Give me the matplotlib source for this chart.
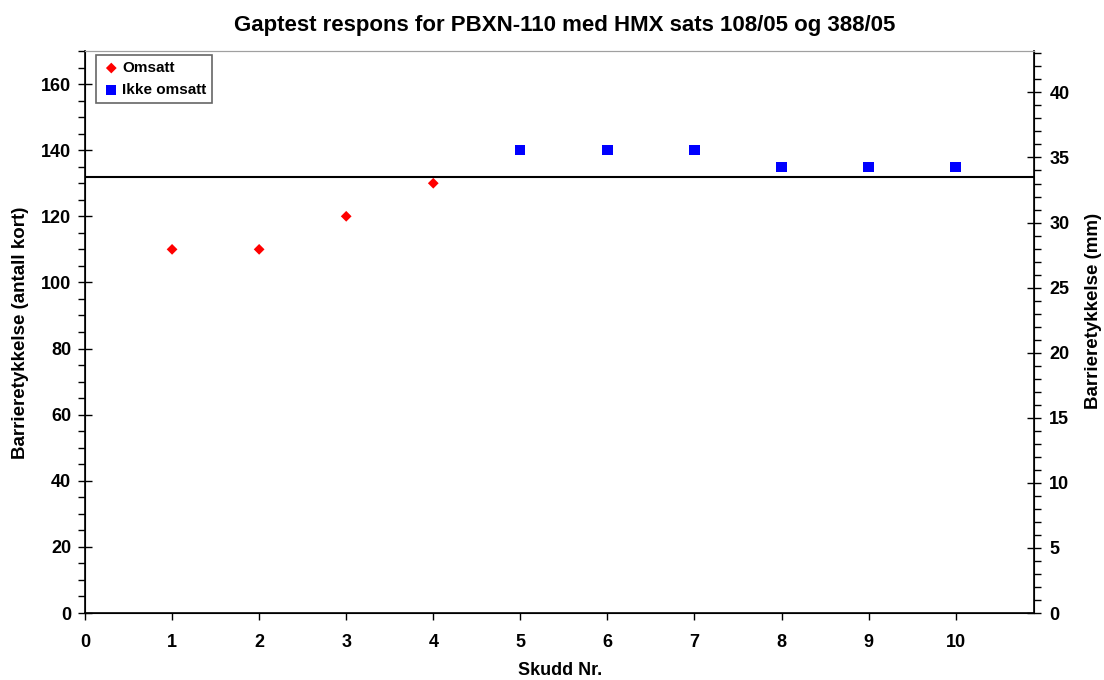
import matplotlib
matplotlib.use("Agg")
import matplotlib.pyplot as plt
from matplotlib.ticker import MultipleLocator

plt.rcParams['font.family'] = ['Liberation Sans', 'DejaVu Sans']
plt.rcParams['font.weight'] = 'bold'

title = "Gaptest respons for PBXN-110 med HMX sats 108/05 og 388/05"
x_label = "Skudd Nr."
y_label_left = "Barrieretykkelse (antall kort)"
y_label_right = "Barrieretykkelse (mm)"
x_omsatt = [1, 2, 3, 4]
y_omsatt = [110, 110, 120, 130]
x_ikke = [5, 6, 7, 8, 9, 10]
y_ikke = [140, 140, 140, 135, 135, 135]
threshold = 132
card_mm = 0.254

W, H = 1104, 680
fig = plt.figure(figsize=(W / 100, H / 100), dpi=100)
ax = fig.add_axes([0.077, 0.0985, 0.8596, 0.8265])

ax.scatter(x_omsatt, y_omsatt, marker='D', s=30, color='#ff0000', edgecolors='none', label='Omsatt', zorder=3)
ax.scatter(x_ikke, y_ikke, marker='s', s=55, color='#0000ff', edgecolors='none', label='Ikke omsatt', zorder=3)
ax.axhline(threshold, color='black', lw=1.5, zorder=2)

ax.set_xlim(0, 10.9)
ax.set_ylim(0, 170)
ax.xaxis.set_major_locator(MultipleLocator(1))
ax.yaxis.set_major_locator(MultipleLocator(20))
ax.yaxis.set_minor_locator(MultipleLocator(5))
ax.tick_params(axis='x', direction='out', length=5, width=1, labelsize=13, pad=10)
ax.tick_params(axis='y', which='major', direction='inout', length=10, width=1, labelsize=13, pad=5)
ax.tick_params(axis='y', which='minor', direction='out', length=5, width=1)
for lbl in ax.get_xticklabels() + ax.get_yticklabels():
    lbl.set_fontweight('bold')

ax.spines['top'].set_color('#a0a0a0')
ax.spines['left'].set_linewidth(1.2)
ax.spines['bottom'].set_linewidth(1.2)

ax2 = ax.twinx()
ax2.set_ylim(0, 170 * card_mm)
ax2.yaxis.set_major_locator(MultipleLocator(5))
ax2.yaxis.set_minor_locator(MultipleLocator(1))
ax2.tick_params(axis='y', which='major', direction='inout', length=10, width=1, labelsize=13, pad=6)
ax2.tick_params(axis='y', which='minor', direction='out', length=5, width=1)
for lbl in ax2.get_yticklabels():
    lbl.set_fontweight('bold')
ax2.spines['top'].set_color('#a0a0a0')
ax2.spines['right'].set_linewidth(1.2)

fig.text(565 / W, 1 - 26 / H, title, fontsize=16, fontweight='bold', ha='center', va='center')
fig.text(560 / W, 1 - 675 / H, x_label, fontsize=13, fontweight='bold', ha='center', va='baseline')
fig.text(21 / W, 1 - 333 / H, y_label_left, fontsize=13.5, fontweight='bold', ha='center', va='center', rotation=90)
fig.text(1094 / W, 1 - 311 / H, y_label_right, fontsize=13.5, fontweight='bold', ha='center', va='center', rotation=90)

leg = ax.legend(loc='upper left', bbox_to_anchor=(0.0116, 0.993), fontsize=11, frameon=True,
                fancybox=False, edgecolor='#404040', handletextpad=0.1, borderpad=0.4,
                handlelength=1.2, labelspacing=0.5, borderaxespad=0)
leg.get_frame().set_linewidth(1.2)
for t in leg.get_texts():
    t.set_fontweight('bold')

fig.savefig("out.png", dpi=100)
